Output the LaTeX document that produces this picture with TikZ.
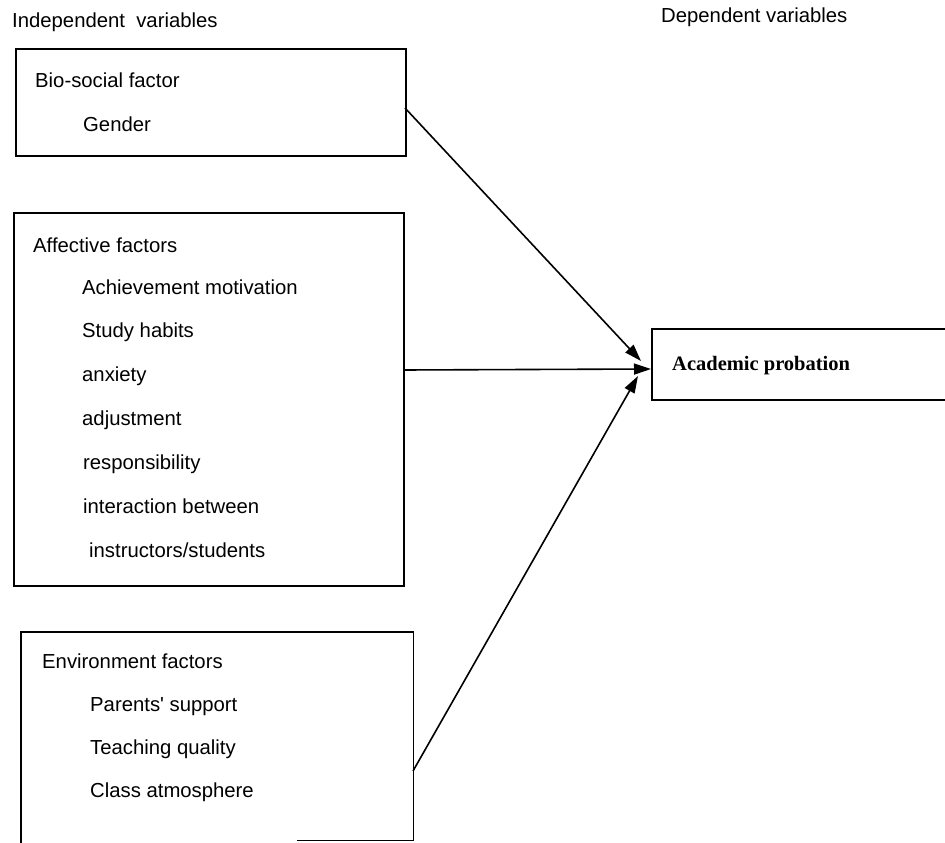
\documentclass[tikz,border=0pt]{standalone}
\usepackage{fontspec}
\setmainfont{Liberation Sans}
\newfontfamily\rawsans{Liberation Sans}
\newfontfamily\timesfont{Liberation Serif}
\usetikzlibrary{arrows.meta}
\begin{document}
\begin{tikzpicture}[x=1pt,y=-1pt,
  lbl/.style={anchor=base west,inner sep=0pt,font=\fontsize{20.3}{22}\selectfont},
  boxframe/.style={draw,line width=1.8pt,inner sep=0pt,anchor=north west},
  conn/.style={line width=1.6pt,-{Triangle[length=17pt,width=11pt]}}]
\useasboundingbox (0,0) rectangle (945,843);
% headers
\node[lbl] (indep) at (12,28) {Independent\ \ variables};
\node[lbl] (dep) at (661,23) {Dependent variables};
% Box 1
\node[boxframe,minimum width=390pt,minimum height=107pt] (bio) at (15,48) {};
\node[lbl] (bioT) at (35,88) {Bio-social factor};
\node[lbl] (gen) at (83,131) {Gender};
% Box 2
\node[boxframe,minimum width=390pt,minimum height=373pt] (aff) at (13,212) {};
\node[lbl] (affT) at (33,252) {Affective factors};
\node[lbl] (a1) at (82,294) {Achievement motivation};
\node[lbl] (a2) at (82,337) {Study habits};
\node[lbl] (a3) at (82,381) {anxiety};
\node[lbl] (a4) at (82,425) {adjustment};
\node[lbl] (a5) at (83,469) {responsibility};
\node[lbl] (a6) at (83,513) {interaction between};
\node[lbl] (a7) at (89,557) {instructors/students};
% Box 3 (bottom mostly cut off)
\node[inner sep=0pt,minimum width=392pt,minimum height=208pt,anchor=north west] (env) at (21,632) {};
\draw[line width=1.8pt] (env.south west |- 0,843) -- (env.north west) -- (env.north east) -- (env.south east) -- ++(-116,0);
\node[lbl] (envT) at (42,668) {Environment factors};
\node[lbl] (e1) at (90,711) {Parents{\rawsans'} support};
\node[lbl] (e2) at (90,754) {Teaching quality};
\node[lbl] (e3) at (90,797) {Class atmosphere};
% Box 4
\node[boxframe,minimum width=310pt,minimum height=71pt] (acad) at (651,328) {};
\node[anchor=base west,inner sep=0pt,font=\timesfont\bfseries\fontsize{20.5}{22}\selectfont] (acadT) at (672,370) {Academic probation};
% connectors
\coordinate (s1) at (405,108);
\coordinate (t1) at (641,361);
\coordinate (s2) at (403,370);
\coordinate (t2) at (651,369);
\coordinate (s3) at (413,771);
\coordinate (t3) at (638,376);
\draw[conn] (s1) -- (t1);
\draw[conn] (s2) -- (t2);
\draw[conn] (s3) -- (t3);
\end{tikzpicture}
\end{document}
